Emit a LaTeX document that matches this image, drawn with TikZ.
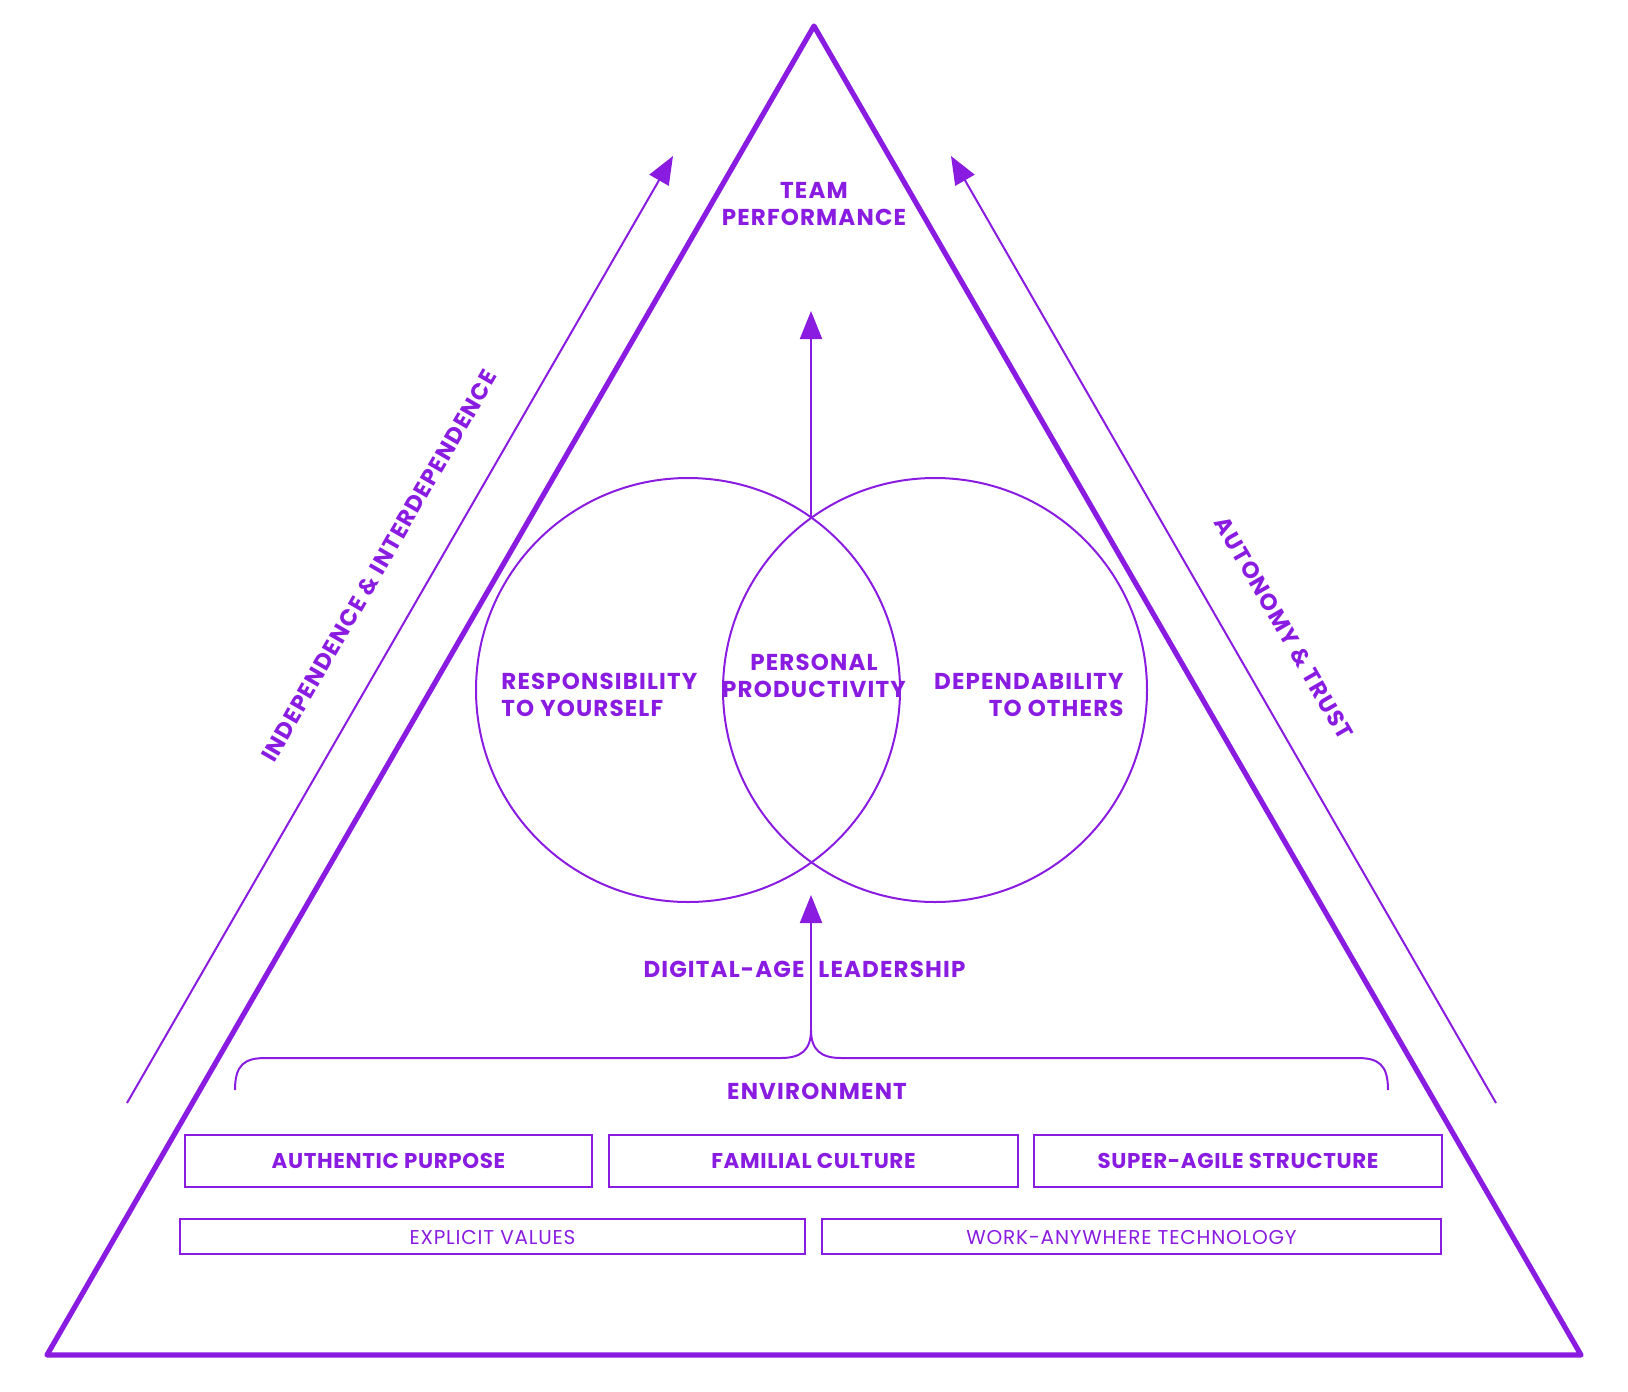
\documentclass[tikz,border=0pt]{standalone}
\usepackage{fontspec}
\setmainfont{Poppins}
\usetikzlibrary{arrows.meta}
\definecolor{vio}{HTML}{8A1CE2}
\begin{document}
\begin{tikzpicture}[x=0.5pt,y=-0.5pt,
  lbl/.style={text=vio,font=\fontsize{11.5}{13.5}\selectfont\bfseries\addfontfeatures{LetterSpace=5},inner sep=0pt},
  boxlbl/.style={text=vio,font=\fontsize{10.7}{12}\selectfont\bfseries\addfontfeatures{LetterSpace=3},inner sep=0pt},
  smallbl/.style={text=vio,font=\fontsize{10}{12}\selectfont\addfontfeatures{LetterSpace=4},inner sep=0pt},
  thinline/.style={draw=vio,line width=1pt},
  arr/.style={thinline,-{Triangle[length=14pt,width=11pt]}},
  cbox/.style={draw=vio,line width=0.75pt}]
\useasboundingbox (0,0) rectangle (1628,1392);
% triangle
\coordinate (apex) at (814,26);
\coordinate (bl) at (47,1355);
\coordinate (br) at (1581,1355);
\draw[vio,line width=2.6pt,line join=round] (apex) -- (bl) -- (br) -- cycle;
% side arrows
\coordinate (lA) at (127,1103); \coordinate (lB) at (673,156);
\coordinate (rA) at (1496,1103); \coordinate (rB) at (951,156);
\draw[arr] (lA) -- (lB);
\draw[arr] (rA) -- (rB);
\node[lbl,rotate=60] (indep) at (379,566) {INDEPENDENCE \& INTERDEPENDENCE};
\node[lbl,rotate=-60] (auto) at (1284,628) {AUTONOMY \& TRUST};
% circles
\draw[thinline] (688,690) circle[radius=106pt];
\draw[thinline] (935,690) circle[radius=106pt];
% labels
\node[lbl,align=center] (team) at (814,204) {TEAM\\PERFORMANCE};
\node[lbl,align=left,anchor=west] (resp) at (501,695) {RESPONSIBILITY\\TO YOURSELF};
\node[lbl,align=center] (pers) at (814,676) {PERSONAL\\PRODUCTIVITY};
\node[lbl,align=right,anchor=east] (dep) at (1124,695) {DEPENDABILITY\\TO OTHERS};
% central arrows
\coordinate (top) at (811,517);
\coordinate (teamtip) at (811,311);
\draw[arr] (top) -- (teamtip);
\coordinate (join) at (811,1030);
\coordinate (lowtip) at (811,895);
\draw[arr] (join) -- (lowtip);
\node[lbl,anchor=east] (dig) at (805,969) {DIGITAL-AGE};
\node[lbl,anchor=west] (lead) at (818,969) {LEADERSHIP};
% brace
\coordinate (braceL) at (235,1090);
\coordinate (braceR) at (1388,1090);
\draw[thinline] (braceL) .. controls (235,1064) and (245,1058) .. (266,1058) -- (781,1058) .. controls (801,1058) and (811,1050) .. (join);
\draw[thinline] (braceR) .. controls (1388,1064) and (1378,1058) .. (1357,1058) -- (841,1058) .. controls (821,1058) and (811,1050) .. (join);
\node[lbl] (env) at (817,1091) {ENVIRONMENT};
% boxes
\draw[cbox] (185,1135) rectangle (592,1187);
\draw[cbox] (609,1135) rectangle (1018,1187);
\draw[cbox] (1034,1135) rectangle (1442,1187);
\node[boxlbl] (b1) at (388.5,1161) {AUTHENTIC PURPOSE};
\node[boxlbl] (b2) at (813.5,1161) {FAMILIAL CULTURE};
\node[boxlbl] (b3) at (1238,1161) {SUPER-AGILE STRUCTURE};
\draw[cbox] (180,1219) rectangle (805,1254);
\draw[cbox] (822,1219) rectangle (1441,1254);
\node[smallbl] (b4) at (492.5,1237) {EXPLICIT VALUES};
\node[smallbl] (b5) at (1131.5,1237) {WORK-ANYWHERE TECHNOLOGY};
\end{tikzpicture}
\end{document}
